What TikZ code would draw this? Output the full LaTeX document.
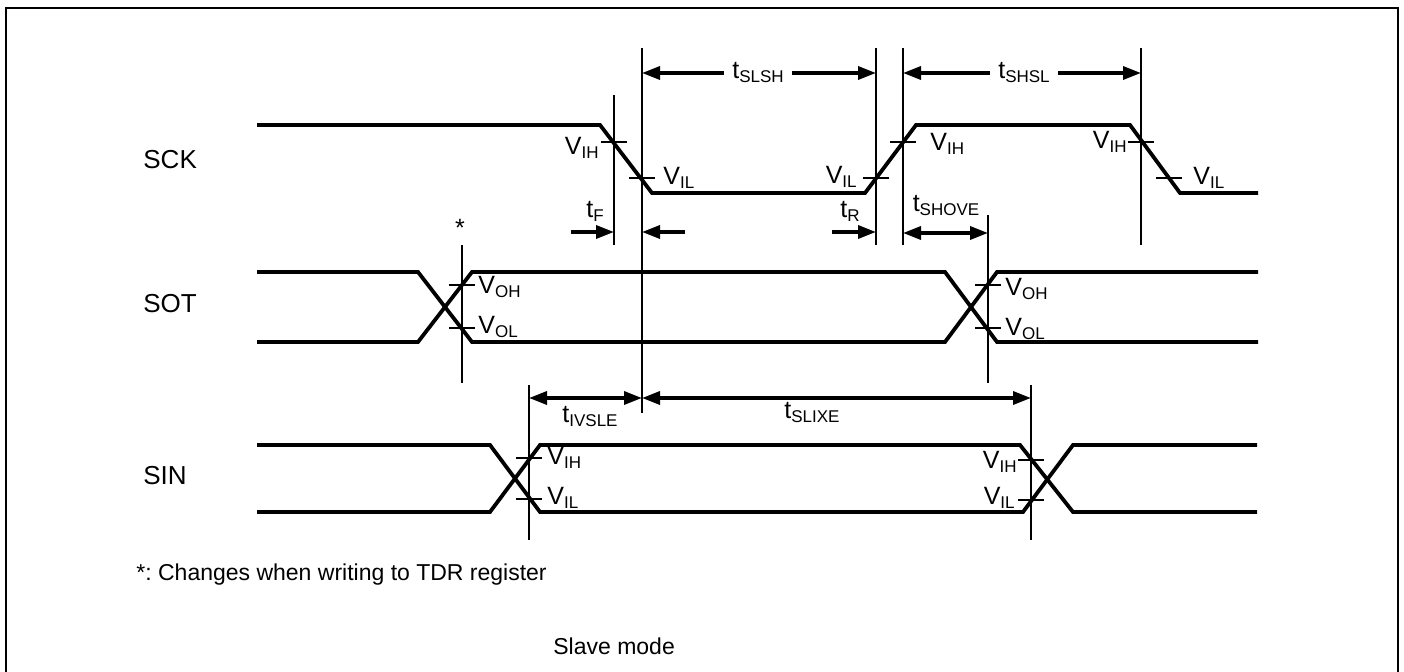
\documentclass[tikz,border=0pt]{standalone}
\usepackage{fontspec}
\setmainfont{Liberation Sans}
\usetikzlibrary{arrows.meta}
\frenchspacing
\newcommand{\lvl}[2]{#1\raisebox{-2pt}{\fontsize{8.5}{9}\selectfont #2}}
\tikzset{
    signal-line/.style = {line width=1.9pt, line join=miter},
    guide-line/.style = {line width=0.65pt},
    dim-arrow/.style = {line width=1.7pt, -{Triangle[length=9pt, width=6.5pt]}},
    dim-both/.style = {line width=1.7pt, {Triangle[length=9pt, width=6.5pt]}-{Triangle[length=9pt, width=6.5pt]}},
    level-label/.style = {font=\fontsize{12.5}{14}\selectfont, inner sep=0pt},
    signal-name/.style = {font=\fontsize{13}{15}\selectfont, inner sep=0pt, anchor=west},
    note-text/.style = {font=\fontsize{11.5}{14}\selectfont, inner sep=0pt, anchor=west},
}

\begin{document}
\begin{tikzpicture}[x=0.5pt, y=-0.5pt]
\useasboundingbox (0,0) rectangle (1404,672);
\draw[line width=1.1pt] (6,672) -- (6,8) -- (1398,8) -- (1398,672);

\node[signal-name] (sck) at (143,160) {SCK};
\node[signal-name] (sot) at (143,304) {SOT};
\node[signal-name] (sin) at (143,476) {SIN};

% waveforms
\draw[signal-line] (257,125) -- (600,125) -- (652,193) -- (865,193) -- (916,125) -- (1130,125) -- (1180,193) -- (1258,193);
\draw[signal-line] (257,272) -- (418,272) -- (472,342) -- (945,342) -- (997,272) -- (1258,272);
\draw[signal-line] (257,342) -- (418,342) -- (472,272) -- (945,272) -- (997,342) -- (1258,342);
\draw[signal-line] (257,445) -- (490,445) -- (540,512) -- (1023,512) -- (1073,445) -- (1257,445);
\draw[signal-line] (257,512) -- (490,512) -- (540,445) -- (1020,445) -- (1073,512) -- (1257,512);

% guide lines
\draw[guide-line] (614,95) coordinate (gF) -- (614,245);
\draw[guide-line] (642,48) coordinate (gA) -- (642,413);
\draw[guide-line] (876,48) coordinate (gR) -- (876,245);
\draw[guide-line] (903,48) coordinate (gB) -- (903,245);
\draw[guide-line] (1141,48) coordinate (gC) -- (1141,245);
\draw[guide-line] (988,215) coordinate (gS) -- (988,383);
\draw[guide-line] (462,245) coordinate (gStar) -- (462,383);
\draw[guide-line] (529,385) coordinate (gI) -- (529,540);
\draw[guide-line] (1031,385) coordinate (gX) -- (1031,540);

% level ticks
\foreach \x/\y in {614/142, 642/178, 876/178, 903/142, 1141/142, 1169/178,
                   462/285, 462/328, 988/285, 988/328,
                   529/458, 529/499, 1031/460, 1031/500}
    \draw[guide-line] (\x-13,\y) -- (\x+13,\y);

\node[level-label, anchor=east] (sck-vih1) at (599,148) {\lvl{V}{IH}};
\node[level-label, anchor=west] (sck-vil1) at (663,178) {\lvl{V}{IL}};
\node[level-label, anchor=east] (sck-vil2) at (857,177) {\lvl{V}{IL}};
\node[level-label, anchor=west] (sck-vih2) at (930,144) {\lvl{V}{IH}};
\node[level-label, anchor=east] (sck-vih3) at (1127,142) {\lvl{V}{IH}};
\node[level-label, anchor=west] (sck-vil3) at (1193,178) {\lvl{V}{IL}};
\node[level-label, anchor=west] (sot-voh1) at (478,287) {\lvl{V}{OH}};
\node[level-label, anchor=west] (sot-vol1) at (478,327) {\lvl{V}{OL}};
\node[level-label, anchor=west] (sot-voh2) at (1005,289) {\lvl{V}{OH}};
\node[level-label, anchor=west] (sot-vol2) at (1005,329) {\lvl{V}{OL}};
\node[level-label, anchor=west] (sin-vih1) at (547,458) {\lvl{V}{IH}};
\node[level-label, anchor=west] (sin-vil1) at (547,498) {\lvl{V}{IL}};
\node[level-label, anchor=east] (sin-vih2) at (1017,462) {\lvl{V}{IH}};
\node[level-label, anchor=east] (sin-vil2) at (1015,498) {\lvl{V}{IL}};

% timing
\node[level-label, inner xsep=4pt] (tslsh) at (758,73) {\lvl{t}{SLSH}};
\draw[dim-arrow] (tslsh.west) -- (tslsh.west -| gA);
\draw[dim-arrow] (tslsh.east) -- (tslsh.east -| gR);
\node[level-label, inner xsep=4pt] (tshsl) at (1024,73) {\lvl{t}{SHSL}};
\draw[dim-arrow] (tshsl.west) -- (tshsl.west -| gB);
\draw[dim-arrow] (tshsl.east) -- (tshsl.east -| gC);

\node[level-label] (tf) at (595,211) {\lvl{t}{F}};
\coordinate (tf-tail) at (571,232);
\coordinate (tf-back) at (685,232);
\draw[dim-arrow] (tf-tail) -- (tf-tail -| gF);
\draw[dim-arrow] (tf-back) -- (tf-back -| gA);
\node[level-label] (tr) at (850,211) {\lvl{t}{R}};
\coordinate (tr-tail) at (832,232);
\draw[dim-arrow] (tr-tail) -- (tr-tail -| gR);
\node[level-label] (tshove) at (946,206) {\lvl{t}{SHOVE}};
\coordinate (shove-l) at (903,233);
\draw[dim-both] (shove-l) -- (shove-l -| gS);

\coordinate (ivsle-l) at (529,398);
\draw[dim-both] (ivsle-l) -- (ivsle-l -| gA);
\draw[dim-both] (ivsle-l -| gA) -- (ivsle-l -| gX);
\node[level-label] (tivsle) at (590,417) {\lvl{t}{IVSLE}};
\node[level-label] (tslixe) at (812,413) {\lvl{t}{SLIXE}};

\node[level-label] (star) at (460,228) {*};
\node[note-text] (note) at (136,575) {*: Changes when writing to TDR register};
\node[note-text] (mode) at (553,646) {Slave mode};
\end{tikzpicture}
\end{document}
